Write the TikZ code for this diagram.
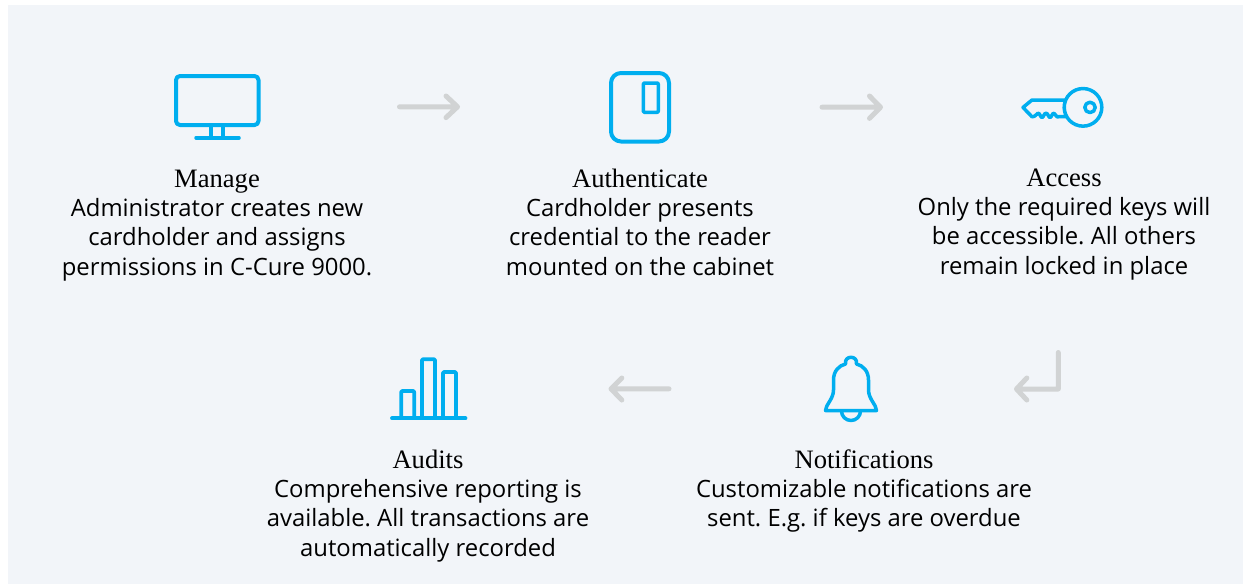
\documentclass[tikz,border=0pt]{standalone}
\usepackage{fontspec}
\setmainfont{Open Sans}
\newfontfamily\headfont{Liberation Serif}
\frenchspacing
\definecolor{panel}{HTML}{F2F5F9}
\definecolor{iconblue}{HTML}{00AEEF}
\definecolor{arrowgrey}{HTML}{D1D3D4}
\tikzset{
  icon/.style={draw=iconblue,line width=4pt,line join=round,line cap=round},
  thinicon/.style={draw=iconblue,line width=3.5pt,line join=round,line cap=round},
  flow/.style={draw=arrowgrey,line width=5pt,line join=round,line cap=round},
  stepbody/.style={align=center,font=\fontsize{23.85}{29.5}\selectfont,inner sep=0pt,anchor=base},
  stephead/.style={font=\headfont\fontsize{26.6}{29}\selectfont,inner sep=0pt,anchor=base}
}
\begin{document}
\begin{tikzpicture}[x=1pt,y=-1pt]
\useasboundingbox (0,0) rectangle (1243,584);
\fill[white] (0,0) rectangle (1243,584);
\fill[panel] (8,5) rectangle (1243,584);
% monitor
\draw[icon,rounded corners=4pt] (176,76) rectangle (258.5,125);
\draw[thinicon] (211,126) -- (211,137.5) (223,126) -- (223,137.5);
\draw[thinicon] (196,137.8) -- (239,137.8);
% reader
\draw[icon,rounded corners=10pt] (611,73) rectangle (669,141.5);
\draw[thinicon,rounded corners=1pt] (643.3,83) rectangle (658.3,112.3);
% key
\draw[thinicon] (1023,107.4) -- (1032,100) -- (1065.7,100)
  arc[start angle=203,end angle=-209,radius=18.8] -- (1057,116.8)
  .. controls (1055.5,116.8) and (1055.5,113.2) .. (1054,113.2)
  .. controls (1052,113.2) and (1051.5,117.5) .. (1050,117.5)
  .. controls (1048.5,117.5) and (1048,113.2) .. (1046,113.2)
  .. controls (1044,113.2) and (1043.5,117.5) .. (1042,117.5)
  .. controls (1040.5,117.5) and (1040,113.2) .. (1038,113.2)
  .. controls (1036.5,113.2) and (1036,116.8) .. (1032,116.8) -- cycle;
\draw[thinicon] (1090,107.4) circle[radius=5.2];
% bell
\draw[thinicon] (825.5,410.5)
  .. controls (825.5,405) and (833.5,399) .. (833.5,390)
  -- (833.5,380)
  .. controls (833.5,371) and (839,365.5) .. (845.5,364)
  .. controls (844,355) and (858,355) .. (856.5,364)
  .. controls (863,365.5) and (868.5,371) .. (868.5,380)
  -- (868.5,390)
  .. controls (868.5,399) and (876.5,405) .. (876.5,410.5) -- cycle;
\draw[thinicon] (841.5,411) arc[start angle=180,end angle=0,radius=9.5,y radius=9.5];
% audits
\draw[icon,line width=3.8pt,rounded corners=1pt]
  (401.2,417.5) -- (401.2,391) -- (414.2,391) -- (414.2,417.5)
  (422,417.5) -- (422,359.2) -- (435,359.2) -- (435,417.5)
  (443,417.5) -- (443,372) -- (456,372) -- (456,417.5);
\draw[icon,line width=3.8pt] (392,418.3) -- (465.5,418.3);
% arrows
\coordinate (a1s) at (399.5,106.8); \coordinate (a1e) at (457.5,106.8);
\coordinate (a2s) at (822,107.2);   \coordinate (a2e) at (880.5,107.2);
\coordinate (a3s) at (1058.3,352.5); \coordinate (a3c) at (1058.3,389); \coordinate (a3e) at (1016.5,389);
\coordinate (a4s) at (669,388.8);   \coordinate (a4e) at (611,388.8);
\draw[flow] (a1s) -- (a1e) (446,96) -- (a1e) -- (446,117.6);
\draw[flow] (a2s) -- (a2e) (869.5,96) -- (a2e) -- (869.5,118.4);
\draw[flow] (a3s) -- (a3c) -- (a3e) (1026.8,378) -- (a3e) -- (1026.8,400);
\draw[flow] (a4s) -- (a4e) (621.8,378) -- (a4e) -- (621.8,400);
% text
\node[stephead] (h1) at (217,187) {Manage};
\node[stepbody] (b1) at (217,275) {Administrator creates new\\cardholder and assigns\\permissions in C-Cure 9000.};
\node[stephead] (h2) at (640,187) {Authenticate};
\node[stepbody] (b2) at (640,275) {Cardholder presents\\credential to the reader\\mounted on the cabinet};
\node[stephead] (h3) at (1064,186) {Access};
\node[stepbody] (b3) at (1064,274) {Only the required keys will\\be accessible. All others\\remain locked in place};
\node[stephead] (h4) at (864,468) {Notifications};
\node[stepbody] (b4) at (864,526.5) {Customizable notifications are\\sent. E.g. if keys are overdue};
\node[stephead] (h5) at (428,468) {Audits};
\node[stepbody] (b5) at (428,556) {Comprehensive reporting is\\available. All transactions are\\automatically recorded};
\end{tikzpicture}
\end{document}
